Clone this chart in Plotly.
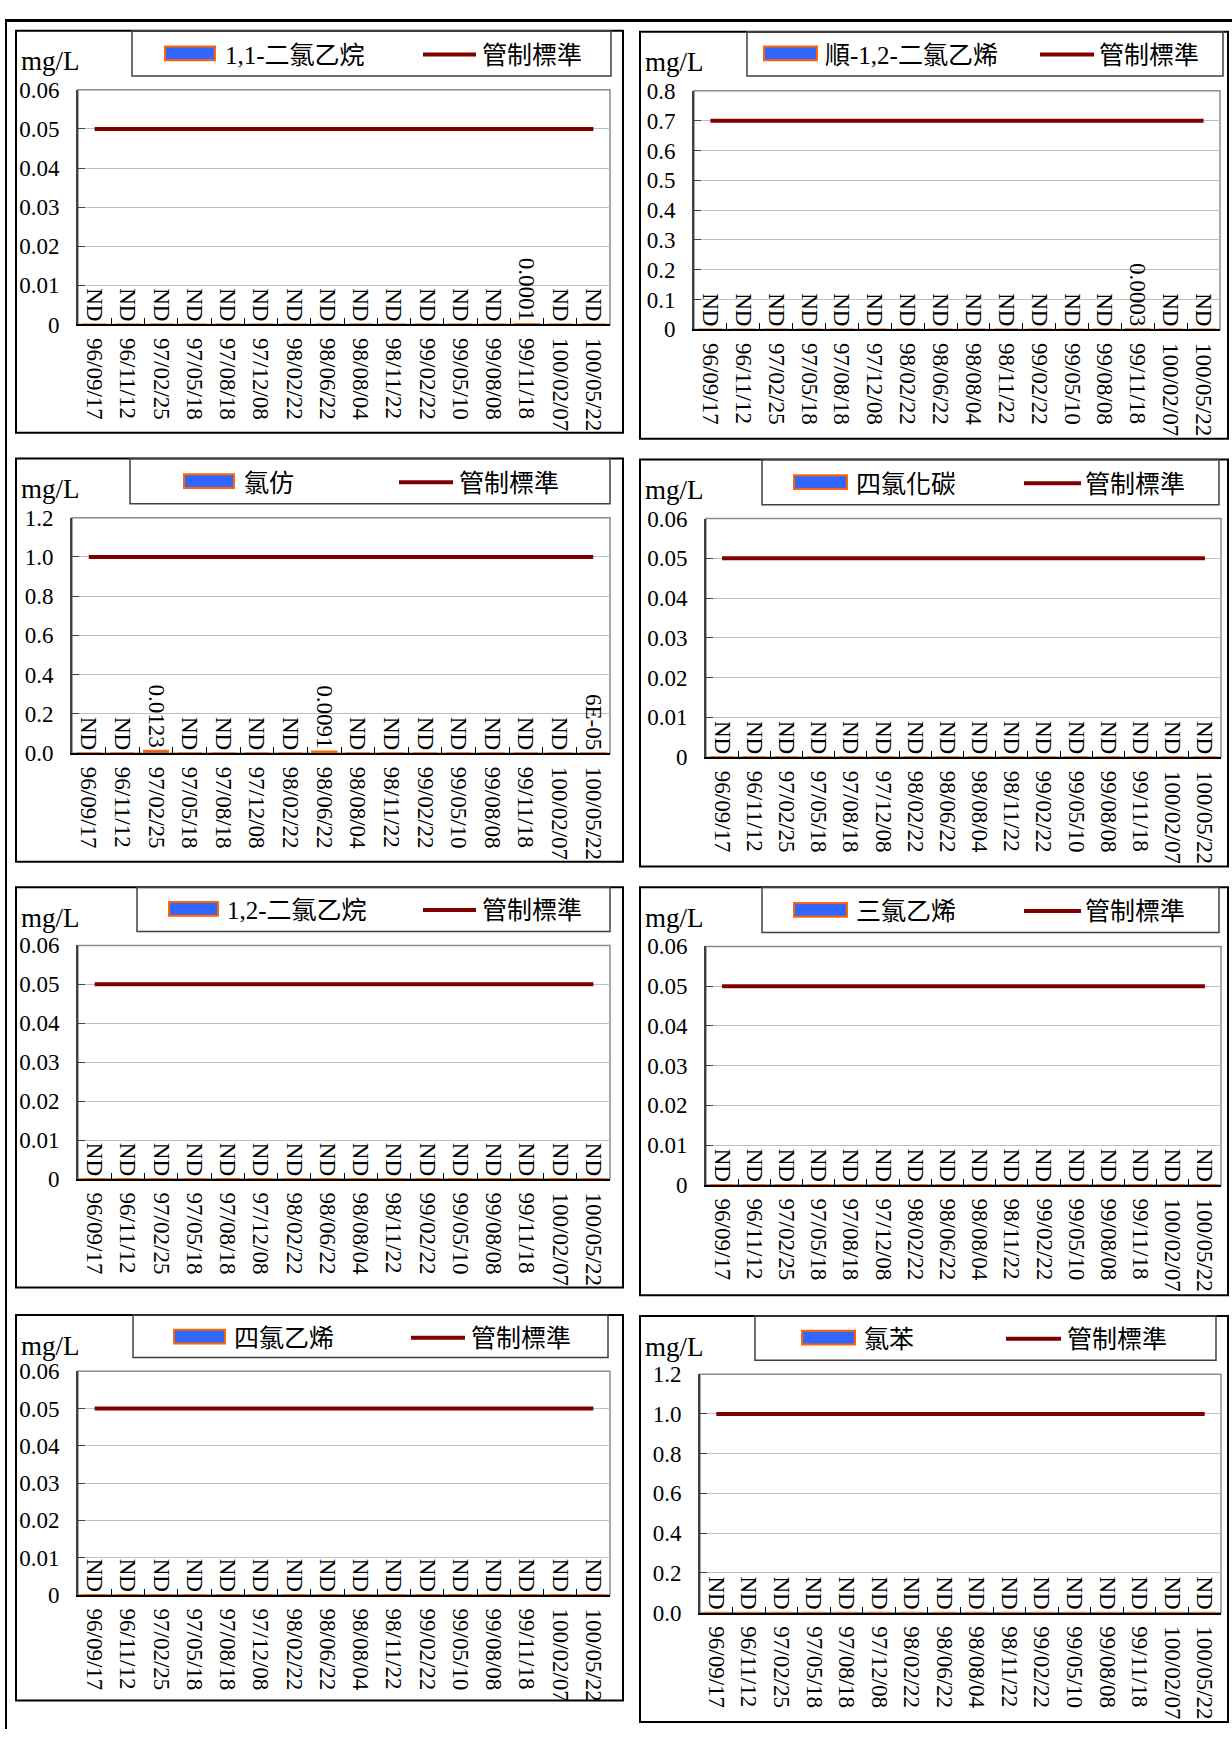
import plotly.graph_objects as go

W, H = 1232, 1742

dates = ["96/09/17", "96/11/12", "97/02/25", "97/05/18", "97/08/18", "97/12/08",
         "98/02/22", "98/06/22", "98/08/04", "98/11/22", "99/02/22", "99/05/10",
         "99/08/08", "99/11/18", "100/02/07", "100/05/22"]

standard_name = "管制標準"
ND = None  # not detected

# measured concentrations (mg/L), one value per sampling date
dca_11 = [ND, ND, ND, ND, ND, ND, ND, ND, ND, ND, ND, ND, ND, 0.0001, ND, ND]
cis_dce_12 = [ND, ND, ND, ND, ND, ND, ND, ND, ND, ND, ND, ND, ND, 0.0003, ND, ND]
chloroform = [ND, ND, 0.0123, ND, ND, ND, ND, 0.0091, ND, ND, ND, ND, ND, ND, ND, 0.00006]
ccl4 = [ND, ND, ND, ND, ND, ND, ND, ND, ND, ND, ND, ND, ND, ND, ND, ND]
dca_12 = [ND, ND, ND, ND, ND, ND, ND, ND, ND, ND, ND, ND, ND, ND, ND, ND]
tce = [ND, ND, ND, ND, ND, ND, ND, ND, ND, ND, ND, ND, ND, ND, ND, ND]
pce = [ND, ND, ND, ND, ND, ND, ND, ND, ND, ND, ND, ND, ND, ND, ND, ND]
chlorobenzene = [ND, ND, ND, ND, ND, ND, ND, ND, ND, ND, ND, ND, ND, ND, ND, ND]

names = ["1,1-二氯乙烷", "順-1,2-二氯乙烯", "氯仿", "四氯化碳",
         "1,2-二氯乙烷", "三氯乙烯", "四氯乙烯", "氯苯"]
series = [dca_11, cis_dce_12, chloroform, ccl4, dca_12, tce, pce, chlorobenzene]
standards = [0.05, 0.7, 1.0, 0.05, 0.05, 0.05, 0.05, 1.0]
y_max = [0.06, 0.8, 1.2, 0.06, 0.06, 0.06, 0.06, 1.2]
y_step = [0.01, 0.1, 0.2, 0.01, 0.01, 0.01, 0.01, 0.2]
y_fmt = ["", "", ".1f", "", "", "", "", ".1f"]

# pixel layout of each panel: plot area, outer box, legend box, legend items
panels = [
    dict(plot=(78, 610, 79, 317), box=(16, 623, 19, 427), leg=(132, 611, 19, 65),
         sw=(165, 215, 42), t1=223, ln=(423, 476), t2=480),
    dict(plot=(694, 1220, 80, 322), box=(640, 1228, 20, 433), leg=(747, 1223, 20, 65),
         sw=(764, 817, 42), t1=823, ln=(1040, 1094), t2=1097),
    dict(plot=(72, 610, 513, 752), box=(16, 623, 453, 862), leg=(130, 610, 453, 499),
         sw=(184, 234, 476), t1=242, ln=(399, 453), t2=457),
    dict(plot=(706, 1221, 514, 756), box=(640, 1228, 454, 867), leg=(762, 1219, 454, 500),
         sw=(794, 847, 477), t1=854, ln=(1024, 1081), t2=1083),
    dict(plot=(78, 610, 947, 1184), box=(16, 623, 888, 1294), leg=(137, 610, 888, 933),
         sw=(169, 218, 910), t1=225, ln=(423, 476), t2=480),
    dict(plot=(706, 1221, 948, 1190), box=(640, 1228, 888, 1302), leg=(762, 1219, 888, 934),
         sw=(794, 847, 911), t1=854, ln=(1024, 1081), t2=1083),
    dict(plot=(78, 610, 1379, 1606), box=(16, 623, 1322, 1713), leg=(133, 608, 1322, 1365),
         sw=(174, 225, 1344), t1=232, ln=(411, 465), t2=469),
    dict(plot=(700, 1221, 1382, 1624), box=(640, 1228, 1323, 1735), leg=(755, 1216, 1323, 1368),
         sw=(802, 855, 1345), t1=862, ln=(1006, 1061), t2=1065),
]

SERIF = "'Liberation Serif', 'Times New Roman', Times, serif"
LEGEND_FONT = "'Liberation Serif', 'Times New Roman', serif, 'Noto Sans CJK TC'"
BAR_FILL = "#3366FF"
BAR_EDGE = "#FF6600"
STD_COLOR = "#800000"


def px(x):
    return x / W


def py(y):
    return 1 - y / H


def label(v):
    if v is None:
        return "ND"
    if v < 0.0001:
        return f"{v:.0E}"
    return f"{v:g}"


fig = go.Figure()
shapes = []
annotations = []
layout = {}

for i, (name, vals, std, p) in enumerate(zip(names, series, standards, panels)):
    n = i + 1
    xa = "x" if n == 1 else f"x{n}"
    ya = "y" if n == 1 else f"y{n}"

    fig.add_trace(go.Bar(
        x=dates, y=[0 if v is None else v for v in vals],
        text=[label(v) for v in vals], textposition="outside", textangle=90,
        constraintext="none", cliponaxis=False,
        textfont=dict(family=SERIF, size=23, color="black"),
        marker=dict(color=BAR_FILL, line=dict(color=BAR_EDGE, width=2)),
        name=name, showlegend=False, xaxis=xa, yaxis=ya,
    ))
    fig.add_trace(go.Scatter(
        x=dates, y=[std] * len(dates), mode="lines",
        line=dict(color=STD_COLOR, width=4),
        name=standard_name, showlegend=False, xaxis=xa, yaxis=ya,
    ))

    x0, x1, yt, yb = p["plot"]
    layout[f"xaxis{'' if n == 1 else n}"] = dict(
        domain=[px(x0), px(x1)], anchor=ya, type="category",
        tickangle=90, ticks="inside", tickson="boundaries", ticklen=6,
        tickcolor="black", showline=True, linecolor="black", linewidth=2,
        showgrid=False, ticklabelstandoff=7,
        tickfont=dict(family=SERIF, size=23, color="black"),
    )
    layout[f"yaxis{'' if n == 1 else n}"] = dict(
        domain=[py(yb), py(yt)], anchor=xa, range=[0, y_max[i]],
        tick0=0, dtick=y_step[i], tickformat=y_fmt[i],
        ticks="inside", ticklen=7, tickcolor="#404040",
        showline=True, linecolor="#404040", linewidth=2,
        showgrid=True, gridcolor="#BFBFBF", gridwidth=1, zeroline=False,
        ticklabelstandoff=12,
        tickfont=dict(family=SERIF, size=23, color="black"),
    )

    # gray frame on top/right of plot area
    shapes.append(dict(type="rect", xref=f"{xa} domain", yref=f"{ya} domain",
                       x0=0, x1=1, y0=0, y1=1, layer="below",
                       line=dict(color="#8C8C8C", width=1.5)))

    # panel box
    bx0, bx1, by0, by1 = p["box"]
    shapes.append(dict(type="rect", xref="paper", yref="paper",
                       x0=px(bx0), x1=px(bx1), y0=py(by1), y1=py(by0),
                       line=dict(color="black", width=2)))

    # legend box
    lx0, lx1, ly0, ly1 = p["leg"]
    shapes.append(dict(type="rect", xref="paper", yref="paper",
                       x0=px(lx0), x1=px(lx1), y0=py(ly1), y1=py(ly0),
                       line=dict(color="#404040", width=1.5)))
    sx0, sx1, sy = p["sw"]
    shapes.append(dict(type="rect", xref="paper", yref="paper",
                       x0=px(sx0), x1=px(sx1), y0=py(sy + 7), y1=py(sy - 7),
                       fillcolor=BAR_FILL, line=dict(color=BAR_EDGE, width=2)))
    shapes.append(dict(type="line", xref="paper", yref="paper",
                       x0=px(p["ln"][0]), x1=px(p["ln"][1]), y0=py(sy + 1), y1=py(sy + 1),
                       line=dict(color=STD_COLOR, width=4)))
    annotations.append(dict(text=name, xref="paper", yref="paper", x=px(p["t1"]),
                            y=py(sy + 2), xanchor="left", yanchor="middle", showarrow=False,
                            font=dict(family=LEGEND_FONT, size=25, color="black")))
    annotations.append(dict(text=standard_name, xref="paper", yref="paper", x=px(p["t2"]),
                            y=py(sy + 2), xanchor="left", yanchor="middle", showarrow=False,
                            font=dict(family=LEGEND_FONT, size=25, color="black")))

    # unit label
    annotations.append(dict(text="mg/L", xref="paper", yref="paper", x=px(bx0 + 3),
                            y=py(by0 + 31), xanchor="left", yanchor="middle", showarrow=False,
                            font=dict(family=SERIF, size=27, color="black")))

# outer frame lines (top and left)
shapes.append(dict(type="line", xref="paper", yref="paper", x0=px(5), x1=1,
                   y0=py(8.5), y1=py(8.5), line=dict(color="black", width=3)))
shapes.append(dict(type="line", xref="paper", yref="paper", x0=px(6), x1=px(6),
                   y0=py(7), y1=0, line=dict(color="black", width=2)))

fig.update_layout(
    width=W, height=H,
    margin=dict(l=0, r=0, t=0, b=0),
    paper_bgcolor="white", plot_bgcolor="white",
    bargap=0.28, showlegend=False,
    shapes=shapes, annotations=annotations,
    font=dict(family=SERIF, color="black"),
    **layout,
)

fig.write_html("out.html", config={"displayModeBar": False},
               post_script="document.body.style.margin='0px';")
